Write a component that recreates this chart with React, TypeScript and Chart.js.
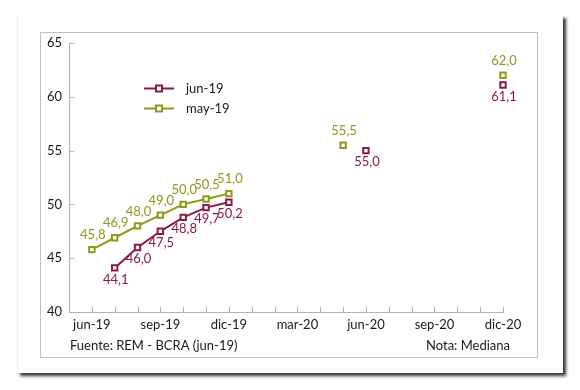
import React, { useEffect, useRef } from "react";
import { Chart, registerables } from "chart.js";

Chart.register(...registerables);

const months = [
  "may-19", "jun-19", "jul-19", "ago-19", "sep-19", "oct-19", "nov-19", "dic-19",
  "ene-20", "feb-20", "mar-20", "abr-20", "may-20", "jun-20", "jul-20", "ago-20",
  "sep-20", "oct-20", "nov-20", "dic-20",
];
const shownTicks = ["jun-19", "sep-19", "dic-19", "mar-20", "jun-20", "sep-20", "dic-20"];

const serieJun19: (number | null)[] = [
  null, null, 44.1, 46.0, 47.5, 48.8, 49.7, 50.2,
  null, null, null, null, null, 55.0, null, null,
  null, null, null, 61.1,
];
const serieMay19: (number | null)[] = [
  null, 45.8, 46.9, 48.0, 49.0, 50.0, 50.5, 51.0,
  null, null, null, null, 55.5, null, null, null,
  null, null, null, 62.0,
];

const yTicks = [40, 45, 50, 55, 60, 65];
const sourceText = "Fuente: REM - BCRA (jun-19)";
const noteText = "Nota: Mediana";

const MAROON = "#8B1A4A";
const OLIVE = "#8C9A1A";
const AXIS = "#b3b3b3";
const FONT = "Lato, 'Open Sans', sans-serif";

const framePlugin = {
  id: "frame",
  beforeDraw(chart: any) {
    const ctx = chart.ctx;
    ctx.save();
    ctx.fillStyle = "#ffffff";
    ctx.fillRect(0, 0, chart.width, chart.height);
    ctx.shadowColor = "rgba(0,0,0,0.8)";
    ctx.shadowBlur = 3;
    ctx.shadowOffsetX = 3;
    ctx.shadowOffsetY = 3;
    ctx.fillRect(17, 15, 546, 358);
    ctx.restore();
    ctx.save();
    ctx.strokeStyle = "#ececec";
    ctx.lineWidth = 1;
    ctx.beginPath();
    ctx.moveTo(17.5, 17);
    ctx.lineTo(17.5, 373);
    ctx.stroke();
    ctx.strokeStyle = "#c0c0c0";
    ctx.strokeRect(40.5, 32.5, 497, 325);
    ctx.restore();
  },
};

const innerTicksPlugin = {
  id: "innerTicks",
  afterDraw(chart: any) {
    const ctx = chart.ctx;
    const x = chart.scales.x;
    const y = chart.scales.y;
    ctx.save();
    ctx.strokeStyle = AXIS;
    ctx.lineWidth = 1;
    ctx.beginPath();
    for (let i = 1; i < months.length; i++) {
      const px = Math.round(x.getPixelForValue(i)) + 0.5;
      ctx.moveTo(px, y.bottom);
      ctx.lineTo(px, y.bottom - 5);
    }
    yTicks.forEach((v) => {
      if (v === yTicks[0]) return;
      const py = Math.round(y.getPixelForValue(v)) + 0.5;
      ctx.moveTo(x.left, py);
      ctx.lineTo(x.left + 5, py);
    });
    ctx.stroke();
    ctx.restore();
  },
};

const labelsPlugin = {
  id: "valueLabels",
  afterDatasetsDraw(chart: any) {
    const ctx = chart.ctx;
    ctx.save();
    ctx.font = `13px ${FONT}`;
    ctx.textAlign = "center";
    chart.data.datasets.forEach((ds: any, di: number) => {
      const meta = chart.getDatasetMeta(di);
      const above = ds.label === "may-19";
      ctx.fillStyle = ds.borderColor;
      ctx.textBaseline = above ? "bottom" : "top";
      meta.data.forEach((pt: any, i: number) => {
        const v = ds.data[i];
        if (v === null || v === undefined) return;
        const txt = v.toFixed(1).replace(".", ",");
        ctx.fillText(txt, pt.x + 1, above ? pt.y - 8 : pt.y + 5);
      });
    });
    ctx.restore();
  },
};

const legendPlugin = {
  id: "customLegend",
  afterDraw(chart: any) {
    const ctx = chart.ctx;
    const area = chart.chartArea;
    const x0 = area.left + 75;
    let y0 = area.top + 45.5;
    ctx.save();
    ctx.font = `13px ${FONT}`;
    ctx.textBaseline = "middle";
    ctx.textAlign = "left";
    chart.data.datasets.forEach((ds: any) => {
      ctx.strokeStyle = ds.borderColor;
      ctx.lineWidth = 2;
      ctx.beginPath();
      ctx.moveTo(x0, y0);
      ctx.lineTo(x0 + 30, y0);
      ctx.stroke();
      ctx.fillStyle = "#fff";
      ctx.fillRect(x0 + 12, y0 - 3, 6, 6);
      ctx.strokeRect(x0 + 12, y0 - 3, 6, 6);
      ctx.fillStyle = "#1a1a1a";
      ctx.fillText(ds.label, x0 + 42, y0);
      y0 += 20;
    });
    ctx.restore();
  },
};

const footerPlugin = {
  id: "footer",
  afterDraw(chart: any) {
    const ctx = chart.ctx;
    const area = chart.chartArea;
    ctx.save();
    ctx.font = `13px ${FONT}`;
    ctx.fillStyle = "#1a1a1a";
    ctx.textBaseline = "middle";
    ctx.textAlign = "left";
    ctx.fillText(sourceText, area.left + 1, 346);
    ctx.textAlign = "right";
    ctx.fillText(noteText, area.right + 7, 346);
    ctx.restore();
  },
};

export default function App() {
  const ref = useRef<HTMLCanvasElement | null>(null);
  useEffect(() => {
    document.body.style.margin = "0";
    if (!ref.current) return;
    const chart = new Chart(ref.current, {
      type: "line",
      data: {
        labels: months,
        datasets: [
          {
            label: "jun-19",
            data: serieJun19,
            borderColor: MAROON,
            backgroundColor: "#ffffff",
            pointBackgroundColor: "#ffffff",
            pointBorderColor: MAROON,
            pointStyle: "rect",
            pointRadius: 3.8,
            pointBorderWidth: 2,
            borderWidth: 2,
            spanGaps: false,
          },
          {
            label: "may-19",
            data: serieMay19,
            borderColor: OLIVE,
            backgroundColor: "#ffffff",
            pointBackgroundColor: "#ffffff",
            pointBorderColor: OLIVE,
            pointStyle: "rect",
            pointRadius: 3.8,
            pointBorderWidth: 2,
            borderWidth: 2,
            spanGaps: false,
          },
        ],
      },
      options: {
        responsive: false,
        animation: false,
        events: [],
        layout: { padding: { left: 0, top: 43, right: 77, bottom: 0 } },
        plugins: { legend: { display: false }, tooltip: { enabled: false } },
        scales: {
          x: {
            offset: false,
            grid: { display: false, drawTicks: false },
            border: { display: true, color: AXIS, width: 1 },
            ticks: {
              autoSkip: false,
              maxRotation: 0,
              minRotation: 0,
              padding: 5,
              color: "#1a1a1a",
              font: { family: FONT, size: 13 },
              callback: (_v: any, i: number) => (shownTicks.includes(months[i]) ? months[i] : ""),
            },
            afterFit: (s: any) => {
              s.height = 78;
            },
          },
          y: {
            min: 40,
            max: 65,
            grid: { display: false, drawTicks: false },
            border: { display: true, color: AXIS, width: 1 },
            ticks: {
              stepSize: 5,
              padding: 7,
              color: "#1a1a1a",
              font: { family: FONT, size: 13 },
            },
            afterFit: (s: any) => {
              s.width = 69;
            },
          },
        },
      },
      plugins: [framePlugin, innerTicksPlugin, labelsPlugin, legendPlugin, footerPlugin],
    });
    return () => chart.destroy();
  }, []);
  return <canvas ref={ref} width={580} height={390} style={{ display: "block", width: 580, height: 390 }} />;
}
